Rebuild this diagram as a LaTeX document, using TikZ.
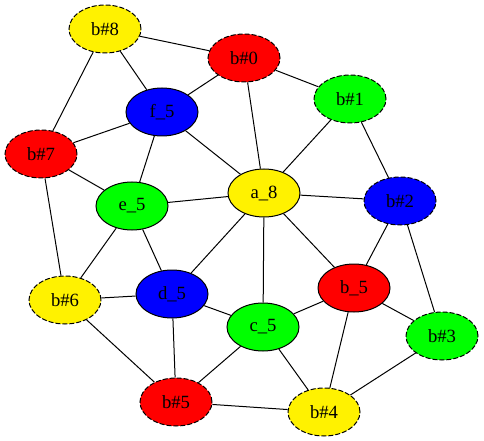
\documentclass[tikz,border=0pt]{standalone}
\usepackage{fontspec}
\setmainfont{Liberation Serif}
\usetikzlibrary{shapes.geometric}

\begin{document}
\begin{tikzpicture}[x=0.75pt,y=-0.75pt,
  vtx/.style={ellipse,draw,line width=0.75pt,minimum width=54pt,minimum height=36pt,
    inner sep=0pt,font=\fontsize{14}{16}\selectfont},
  bvtx/.style={vtx,dash pattern=on 3.75pt off 1.5pt},
  every path/.style={line width=0.75pt}]
\useasboundingbox (0,0) rectangle (484,441);
% outer ring
\node[bvtx,fill=yellow] (b8) at (105,29) {b\#8};
\node[bvtx,fill=red] (b0) at (244,58) {b\#0};
\node[bvtx,fill=green] (b1) at (350,99) {b\#1};
\node[bvtx,fill=blue] (b2) at (400,201) {b\#2};
\node[bvtx,fill=green] (b3) at (442,336) {b\#3};
\node[bvtx,fill=yellow] (b4) at (324,412) {b\#4};
\node[bvtx,fill=red] (b5) at (176,402) {b\#5};
\node[bvtx,fill=yellow] (b6) at (65,300) {b\#6};
\node[bvtx,fill=red] (b7) at (41,154) {b\#7};
% inner nodes
\node[vtx,fill=yellow] (a8) at (264,193) {a\_8};
\node[vtx,fill=red] (b_5) at (354,288) {b\_5};
\node[vtx,fill=green] (c5) at (263,327) {c\_5};
\node[vtx,fill=blue] (d5) at (172,294) {d\_5};
\node[vtx,fill=green] (e5) at (132,206) {e\_5};
\node[vtx,fill=blue] (f5) at (162,112) {f\_5};
% edges
\draw (b8) -- (b0);
\draw (b8) -- (f5);
\draw (b8) -- (b7);
\draw (b0) -- (f5);
\draw (b0) -- (a8);
\draw (b0) -- (b1);
\draw (b1) -- (a8);
\draw (b1) -- (b2);
\draw (f5) -- (b7);
\draw (f5) -- (a8);
\draw (f5) -- (e5);
\draw (b7) -- (e5);
\draw (b7) -- (b6);
\draw (e5) -- (a8);
\draw (e5) -- (b6);
\draw (e5) -- (d5);
\draw (a8) -- (b2);
\draw (a8) -- (d5);
\draw (a8) -- (c5);
\draw (a8) -- (b_5);
\draw (b2) -- (b_5);
\draw (b2) -- (b3);
\draw (b6) -- (d5);
\draw (b6) -- (b5);
\draw (d5) -- (c5);
\draw (d5) -- (b5);
\draw (b_5) -- (c5);
\draw (b_5) -- (b3);
\draw (b_5) -- (b4);
\draw (c5) -- (b5);
\draw (c5) -- (b4);
\draw (b3) -- (b4);
\draw (b5) -- (b4);
\end{tikzpicture}
\end{document}
